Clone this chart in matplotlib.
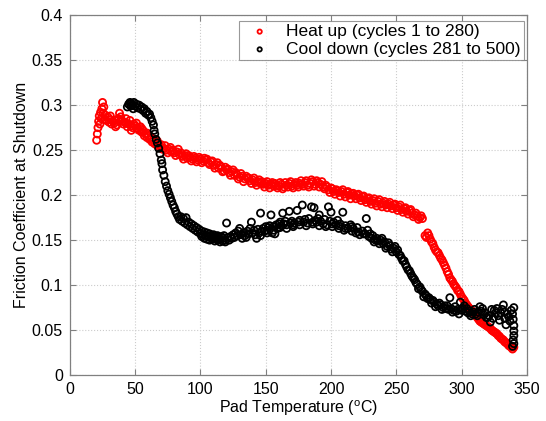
import matplotlib
matplotlib.use("Agg")
import matplotlib.pyplot as plt

plt.rcParams['font.family'] = ['Liberation Sans', 'DejaVu Sans']
plt.rcParams['mathtext.fontset'] = 'custom'
plt.rcParams['mathtext.rm'] = 'Liberation Sans'

heat_temp = [20.5, 21, 21.5, 22, 22.5, 23, 23.5, 24, 24.5, 25, 25.5, 26, 26.5, 27, 28, 29, 30, 31, 32, 33,
             34, 35, 36, 37, 38, 39, 40, 41, 42, 43, 44, 45, 46, 47, 48, 49, 50, 51, 52, 53,
             54, 55, 56, 57, 58, 59, 60, 61, 62, 63, 64, 65, 66, 67, 68, 69, 70, 72, 74, 76,
             78, 80, 82, 84, 86, 88, 90, 92, 94, 96, 98, 100, 102, 104, 106, 108, 110, 112, 114, 116,
             118, 120, 122, 124, 126, 128, 130, 132, 134, 136, 138, 140, 142, 144, 146, 148, 150, 152, 154, 156,
             158, 160, 162, 164, 166, 168, 170, 172, 174, 176, 178, 180, 182, 184, 186, 188, 190, 192, 194, 196,
             198, 200, 202, 204, 206, 208, 210, 212, 214, 216, 218, 220, 222, 224, 226, 228, 230, 232, 234, 236,
             238, 240, 242, 244, 246, 248, 250, 252, 254, 256, 258, 260, 262, 264, 266, 268, 270, 272, 273, 275,
             277, 279, 281, 283, 285, 287, 289, 291, 293, 295, 297, 299, 301, 303, 305, 307, 309, 311, 313, 315,
             317, 319, 321, 323, 325, 327, 329, 331, 333, 335, 337, 339, 340,
             31, 35, 39, 43, 47, 51, 55, 59, 63, 67, 71, 73, 75, 77, 79, 81, 83, 85, 87, 89,
             91, 93, 95, 97, 99, 101, 103, 105, 107, 109, 111, 113, 115, 117, 119, 121, 123, 125, 127, 129,
             131, 133, 135, 137, 139, 141, 143, 145, 147, 149, 151, 153, 155, 157, 159, 161, 163, 165, 167, 169,
             171, 173, 175, 177, 179, 181, 183, 185, 187, 189, 191, 193, 195, 197, 199, 201, 203, 205, 207, 209,
             211, 213, 215, 217, 219, 221, 223, 225, 227, 229, 231, 233, 235, 237, 239, 241, 243, 245, 247, 249,
             251, 253, 255, 257, 259, 261, 263, 265, 267, 269,
             274, 276, 278, 280, 282, 284, 286, 288, 290, 292, 294, 296, 298, 300, 302, 304, 306, 308, 310, 312,
             314, 316, 318, 320, 322, 324, 326, 328, 330, 332, 334, 336, 338]
heat_mu = [0.261, 0.268, 0.275, 0.282, 0.288, 0.279, 0.292, 0.285, 0.296, 0.303, 0.291, 0.298, 0.284, 0.289, 0.283, 0.287, 0.281, 0.284, 0.279, 0.282,
           0.280, 0.283, 0.278, 0.285, 0.291, 0.287, 0.282, 0.279, 0.281, 0.280, 0.276, 0.279, 0.283, 0.277, 0.275, 0.279, 0.277, 0.280, 0.274, 0.272,
           0.276, 0.270, 0.272, 0.266, 0.268, 0.264, 0.266, 0.262, 0.264, 0.259, 0.261, 0.257, 0.259, 0.255, 0.257, 0.254, 0.256, 0.252, 0.250, 0.251,
           0.248, 0.247, 0.248, 0.245, 0.243, 0.244, 0.241, 0.242, 0.240, 0.241, 0.239, 0.240, 0.238, 0.239, 0.236, 0.237, 0.233, 0.234, 0.230, 0.231,
           0.227, 0.228, 0.225, 0.226, 0.222, 0.223, 0.220, 0.221, 0.218, 0.219, 0.216, 0.217, 0.214, 0.215, 0.213, 0.212, 0.213, 0.211, 0.212, 0.210,
           0.211, 0.210, 0.212, 0.209, 0.211, 0.213, 0.210, 0.212, 0.211, 0.213, 0.212, 0.214, 0.211, 0.213, 0.215, 0.212, 0.214, 0.212, 0.209, 0.211,
           0.206, 0.208, 0.204, 0.206, 0.203, 0.204, 0.201, 0.203, 0.200, 0.201, 0.199, 0.200, 0.197, 0.198, 0.195, 0.196, 0.193, 0.194, 0.191, 0.193,
           0.190, 0.191, 0.189, 0.190, 0.188, 0.189, 0.186, 0.187, 0.184, 0.185, 0.182, 0.183, 0.180, 0.178, 0.177, 0.175, 0.174, 0.155, 0.153, 0.155,
           0.148, 0.142, 0.137, 0.133, 0.128, 0.122, 0.115, 0.108, 0.104, 0.099, 0.094, 0.090, 0.085, 0.080, 0.076, 0.073, 0.069, 0.066, 0.062, 0.059,
           0.057, 0.055, 0.053, 0.050, 0.048, 0.046, 0.043, 0.040, 0.037, 0.035, 0.032, 0.029, 0.031,
           0.288, 0.276, 0.283, 0.285, 0.272, 0.275, 0.274, 0.269, 0.263, 0.260, 0.251, 0.255, 0.247, 0.253, 0.250, 0.244, 0.251, 0.247, 0.240, 0.246,
           0.244, 0.238, 0.243, 0.237, 0.242, 0.236, 0.241, 0.240, 0.234, 0.238, 0.230, 0.236, 0.233, 0.226, 0.231, 0.229, 0.222, 0.228, 0.225, 0.218,
           0.224, 0.215, 0.221, 0.219, 0.213, 0.219, 0.211, 0.217, 0.215, 0.209, 0.215, 0.208, 0.214, 0.213, 0.208, 0.214, 0.207, 0.214, 0.209, 0.215,
           0.208, 0.214, 0.209, 0.216, 0.210, 0.216, 0.209, 0.217, 0.210, 0.216, 0.209, 0.215, 0.207, 0.209, 0.203, 0.207, 0.201, 0.205, 0.199, 0.206,
           0.198, 0.204, 0.196, 0.202, 0.196, 0.201, 0.194, 0.199, 0.192, 0.197, 0.190, 0.196, 0.188, 0.195, 0.187, 0.193, 0.186, 0.192, 0.185, 0.190,
           0.183, 0.189, 0.181, 0.186, 0.179, 0.184, 0.176, 0.180, 0.173, 0.177,
           0.158, 0.151, 0.146, 0.139, 0.136, 0.130, 0.125, 0.119, 0.112, 0.106, 0.101, 0.097, 0.093, 0.087, 0.083, 0.078, 0.074, 0.071, 0.068, 0.064,
           0.060, 0.058, 0.056, 0.054, 0.052, 0.049, 0.047, 0.044, 0.041, 0.039, 0.036, 0.033, 0.031]

cool_temp = [44, 45, 46, 46.5, 47, 48, 48.5, 49, 50, 51, 52, 53, 54, 55, 56, 57, 58, 59, 60, 61,
             62, 63, 64, 64.5, 65, 66, 67, 68, 69, 70, 70.5, 71, 72, 73, 74, 75, 76, 77, 78, 79,
             80, 81, 82, 83, 84, 85, 86, 87, 88, 89, 90, 91, 92, 93, 94, 95, 96, 97, 98, 99,
             100, 101, 102, 103, 104, 105, 106, 107, 108, 109, 110, 111, 112, 113, 114, 115, 116, 117, 118, 119,
             120, 121, 122, 123, 124, 125, 126, 127, 128, 129, 130, 131, 132, 133, 134, 135, 136, 137, 138, 139,
             140, 141, 142, 143, 144, 145, 146, 147, 148, 149, 150, 151, 152, 153, 154, 155, 156, 157, 158, 159,
             160, 161, 162, 163, 164, 165, 166, 168, 169, 170, 171, 172, 174, 175, 176, 178, 179, 180, 182, 183,
             185, 186, 187, 188, 189, 190, 191, 192, 194, 195, 197, 198, 199, 200, 201, 202, 204, 205, 206, 207,
             209, 210, 211, 213, 215, 216, 217, 219, 220, 222, 224, 225, 227, 228, 229, 230, 231, 232, 234, 235,
             236, 238, 240, 241, 243, 245, 246, 248, 250, 251, 253, 254, 255, 257, 258, 260, 261, 262, 264, 265,
             266, 268, 269, 270, 272, 273, 275, 276, 278, 279, 281, 282, 284, 286, 287, 288, 290, 291, 292, 294,
             296, 297, 299, 300, 301, 303, 305, 306, 308, 309, 311, 312, 314, 315, 317, 319, 320, 322, 323, 325,
             327, 328, 329, 330, 332, 333, 334, 335, 336, 337, 338, 339, 339.5, 340, 340, 340, 339.5, 340, 339, 340,
             101, 103, 105, 107, 109, 111, 113, 115, 117, 119,
             146, 151, 156, 161, 166, 171, 176, 181, 186, 191, 196, 201, 206, 211, 216, 221, 226,
             233, 237, 239, 242, 244, 247, 249, 252, 256, 259, 263, 267, 271, 274, 277, 280, 283, 285, 289, 293,
             295, 298, 302, 304, 307, 310, 313, 316, 318, 321, 324, 326, 331, 333]
cool_mu = [0.298, 0.301, 0.303, 0.299, 0.302, 0.300, 0.296, 0.303, 0.299, 0.301, 0.297, 0.300, 0.296, 0.298, 0.294, 0.296, 0.291, 0.293, 0.289, 0.290,
           0.286, 0.282, 0.278, 0.272, 0.268, 0.262, 0.258, 0.252, 0.246, 0.239, 0.235, 0.228, 0.222, 0.215, 0.210, 0.205, 0.201, 0.197, 0.193, 0.189,
           0.186, 0.182, 0.179, 0.176, 0.173, 0.176, 0.171, 0.174, 0.169, 0.175, 0.167, 0.170, 0.165, 0.168, 0.163, 0.166, 0.161, 0.164, 0.159, 0.162,
           0.157, 0.160, 0.156, 0.159, 0.155, 0.158, 0.154, 0.157, 0.155, 0.153, 0.156, 0.154, 0.152, 0.155, 0.153, 0.151, 0.154, 0.152, 0.155, 0.150,
           0.169, 0.153, 0.150, 0.154, 0.152, 0.156, 0.153, 0.158, 0.155, 0.160, 0.163, 0.156, 0.152, 0.158, 0.155, 0.153, 0.160, 0.157, 0.163, 0.170,
           0.158, 0.161, 0.156, 0.152, 0.162, 0.158, 0.180, 0.160, 0.163, 0.160, 0.165, 0.161, 0.164, 0.166, 0.178, 0.158, 0.165, 0.157, 0.167, 0.163,
           0.168, 0.170, 0.166, 0.180, 0.168, 0.171, 0.167, 0.182, 0.169, 0.171, 0.167, 0.169, 0.183, 0.170, 0.172, 0.189, 0.170, 0.173, 0.169, 0.174,
           0.187, 0.170, 0.186, 0.172, 0.170, 0.174, 0.178, 0.171, 0.168, 0.173, 0.167, 0.187, 0.171, 0.181, 0.165, 0.170, 0.167, 0.172, 0.163, 0.168,
           0.181, 0.161, 0.166, 0.163, 0.167, 0.160, 0.163, 0.158, 0.164, 0.156, 0.160, 0.157, 0.174, 0.161, 0.154, 0.157, 0.152, 0.155, 0.150, 0.152,
           0.149, 0.150, 0.146, 0.148, 0.143, 0.144, 0.140, 0.141, 0.137, 0.139, 0.133, 0.130, 0.127, 0.123, 0.120, 0.116, 0.113, 0.110, 0.106, 0.103,
           0.101, 0.098, 0.095, 0.093, 0.090, 0.088, 0.086, 0.084, 0.083, 0.081, 0.079, 0.077, 0.078, 0.075, 0.077, 0.074, 0.073, 0.086, 0.074, 0.072,
           0.071, 0.073, 0.081, 0.072, 0.074, 0.071, 0.069, 0.071, 0.068, 0.070, 0.068, 0.066, 0.076, 0.071, 0.067, 0.064, 0.064, 0.059, 0.073, 0.072,
           0.074, 0.066, 0.061, 0.069, 0.078, 0.070, 0.056, 0.068, 0.065, 0.060, 0.072, 0.068, 0.062, 0.055, 0.049, 0.044, 0.039, 0.035, 0.032, 0.075,
           0.154, 0.152, 0.151, 0.150, 0.151, 0.149, 0.150, 0.148, 0.149, 0.148,
           0.155, 0.158, 0.161, 0.164, 0.163, 0.165, 0.167, 0.166, 0.168, 0.166, 0.165, 0.168, 0.166, 0.163, 0.165, 0.159, 0.157,
           0.148, 0.146, 0.152, 0.141, 0.147, 0.137, 0.143, 0.134, 0.127, 0.117, 0.108, 0.096, 0.087, 0.085, 0.080, 0.076, 0.080, 0.073, 0.077, 0.070,
           0.076, 0.068, 0.077, 0.074, 0.066, 0.073, 0.070, 0.074, 0.069, 0.066, 0.063, 0.069, 0.073, 0.063]

x_ticks = [0, 50, 100, 150, 200, 250, 300, 350]
y_ticks = [0, 0.05, 0.1, 0.15, 0.2, 0.25, 0.3, 0.35, 0.4]
y_ticklabels = ['0', '0.05', '0.1', '0.15', '0.2', '0.25', '0.3', '0.35', '0.4']

fig = plt.figure(figsize=(5.46, 4.21), dpi=100)
ax = fig.add_axes([0.128, 0.109, 0.837, 0.855])

ax.scatter(heat_temp, heat_mu, s=26, facecolors='none', edgecolors='red', linewidths=1.3,
           label='Heat up (cycles 1 to 280)', zorder=3)
ax.scatter(cool_temp, cool_mu, s=26, facecolors='none', edgecolors='black', linewidths=1.3,
           label='Cool down (cycles 281 to 500)', zorder=3)

ax.set_xlim(0, 350)
ax.set_ylim(0, 0.4)
ax.set_xticks(x_ticks)
ax.set_yticks(y_ticks)
ax.set_yticklabels(y_ticklabels)
ax.tick_params(direction='in', top=True, right=True, labelsize=11.5, length=4, color='#808080', pad=5)
ax.grid(True, linestyle=':', color='#cccccc', linewidth=0.8)
for s in ax.spines.values():
    s.set_color('#808080')
    s.set_linewidth(0.9)

ax.set_xlabel('Pad Temperature ($^{\\rm o}$C)', fontsize=11.5, labelpad=1)
ax.set_ylabel('Friction Coefficient at Shutdown', fontsize=11.5, labelpad=2)

leg = ax.legend(loc='upper right', bbox_to_anchor=(0.993, 0.985), fontsize=12.5, frameon=True, fancybox=False,
                edgecolor='#808080', handletextpad=0.5, borderpad=0.2, labelspacing=0.15,
                markerscale=0.6, handlelength=2.0, borderaxespad=0)
leg.get_frame().set_linewidth(0.8)

fig.savefig('out.png', dpi=100)
